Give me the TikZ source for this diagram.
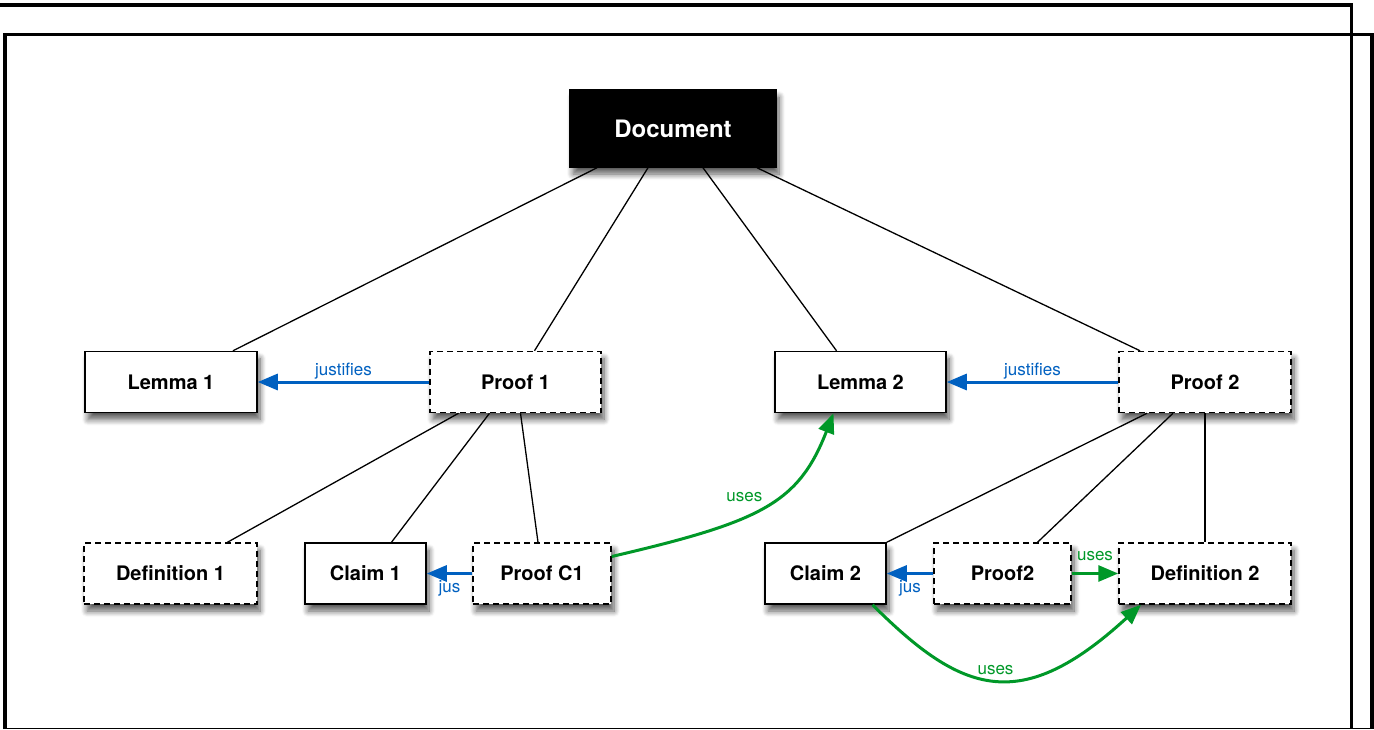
\documentclass[tikz,border=0pt]{standalone}
\usepackage{fontspec}
\setmainfont{TeX Gyre Heros}
\usetikzlibrary{calc,arrows.meta,shadows.blur}
\definecolor{jusblue}{RGB}{0,96,192}
\definecolor{usesgreen}{RGB}{0,152,40}
\newcommand{\boxfont}{\bfseries\fontsize{20}{24}\selectfont}
\newcommand{\tagfont}{\fontsize{17}{20}\selectfont}

\begin{document}
\begin{tikzpicture}[x=1pt,y=-1pt,
  item/.style={draw,line width=1.5pt,fill=white,inner sep=0pt,minimum height=61pt,font=\boxfont,
    blur shadow={shadow xshift=3pt,shadow yshift=-7pt,shadow blur radius=6pt,shadow blur steps=8,shadow opacity=65}},
  open/.style={item,dash pattern=on 6pt off 4pt},
  tree/.style={line width=1.3pt},
  justify/.style={draw=jusblue,line width=3pt,-{Triangle[length=20pt,width=16pt]}},
  use/.style={draw=usesgreen,line width=3pt,-{Triangle[length=20pt,width=16pt]}},
  tag/.style={font=\tagfont,inner sep=2pt}]

 \useasboundingbox (0,0) rectangle (1374,729);
   \draw[line width=3.3pt] (0,5) -- (1351.7,5) -- (1351.7,729);
   \draw[line width=3.4pt] (5,729) -- (5,34.7) -- (1372,34.7) -- (1372,729);
   \draw[line width=1pt] (5,728) -- (1372,728);

   \node[item,fill=black,text=white,minimum width=206pt,minimum height=77pt,
     font=\bfseries\fontsize{24}{28}\selectfont] (doc) at (673,128.5) {Document};

   \node[item,minimum width=172pt] (lemmaA) at (171,382) {Lemma 1};
   \node[open,minimum width=171pt] (proofA) at (515.5,382) {Proof 1};
   \node[item,minimum width=171pt] (lemmaB) at (860.5,382) {Lemma 2};
   \node[open,minimum width=172pt] (proofB) at (1205,382) {Proof 2};

   \node[open,minimum width=173pt] (defA) at (170.5,573.5) {Definition 1};
   \node[item,minimum width=121pt] (claimA) at (365.5,573.5) {Claim 1};
   \node[open,minimum width=138pt] (pcA) at (542,573.5) {Proof C1};
   \node[item,minimum width=121pt] (claimB) at (825.5,573.5) {Claim 2};
   \node[open,minimum width=137pt] (pcB) at (1002.5,573.5) {Proof2};
   \node[open,minimum width=172pt] (defB) at (1205,573.5) {Definition 2};

   \draw[tree] ([xshift=-76pt]doc.south) -- ([xshift=62pt]lemmaA.north);
   \draw[tree] ([xshift=-25pt]doc.south) -- ([xshift=19pt]proofA.north);
   \draw[tree] ([xshift=30pt]doc.south) -- ([xshift=-24pt]lemmaB.north);
   \draw[tree] ([xshift=84pt]doc.south) -- ([xshift=-65pt]proofB.north);
   \draw[tree] ([xshift=-57pt]proofA.south) -- ([xshift=57pt]defA.north);
   \draw[tree] ([xshift=-26pt]proofA.south) -- ([xshift=26pt]claimA.north);
   \draw[tree] ([xshift=5pt]proofA.south) -- ([xshift=-4pt]pcA.north);
   \draw[tree] ([xshift=-58pt]proofB.south) -- (claimB.north east);
   \draw[tree] ([xshift=-32pt]proofB.south) -- ([xshift=35pt]pcB.north);
   \draw[tree] (proofB.south) -- (defB.north);

   \draw[justify] (proofA) -- node[tag,above=-1pt,text=jusblue] {justifies} (lemmaA);
   \draw[justify] (proofB) -- node[tag,above=-1pt,text=jusblue] {justifies} (lemmaB);
   \draw[justify] (pcA) -- node[tag,below=3pt,text=jusblue] {jus} (claimA);
   \draw[justify] (pcB) -- node[tag,below=3pt,text=jusblue] {jus} (claimB);

   \draw[use] ([yshift=17pt]pcA.east) .. controls +(150,-35) and +(-35,90) .. ([xshift=-27pt]lemmaB.south)
     node[pos=0.5,tag,above left=0pt,text=usesgreen] {uses};
   \draw[use] (pcB) -- node[tag,above=9pt,text=usesgreen] {uses} (defB);
   \draw[use] ([xshift=47pt]claimB.south) .. controls +(90,90) and +(-120,110) .. ([xshift=-64pt]defB.south)
     node[pos=0.5,tag,above=2pt,text=usesgreen] {uses};

\end{tikzpicture}
\end{document}
